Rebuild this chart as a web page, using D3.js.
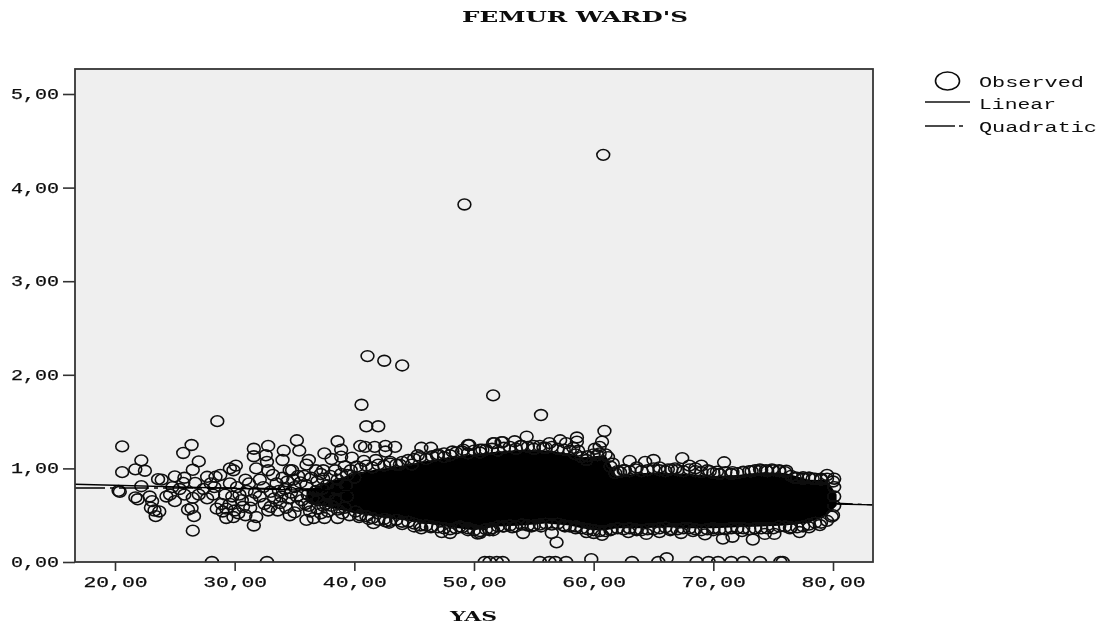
<!DOCTYPE html>
<html>
<head>
<meta charset="utf-8">
<script src="https://cdn.jsdelivr.net/npm/d3@7"></script>
<style>
  html, body { margin: 0; background: #fff; }
  svg { display: block; }
  text { font-family: "Liberation Mono", monospace; fill: #111; }
</style>
</head>
<body>
<div id="chart"></div>
<script>
const xTicks = [20, 30, 40, 50, 60, 70, 80];
const yTicks = [0, 1, 2, 3, 4, 5];

// points that stand clear of the cloud: [YAS, FEMUR WARD'S]
const outliers = [[41.1,2.2],[42.5,2.15],[44,2.1],[49.2,3.82],[60.8,4.35],[51.6,1.78],[55.6,1.57],[60.9,1.4],
  [40.6,1.68],[41,1.45],[42,1.45],[28.55,1.505]];

const zeroPoints = [[28.1,0],[32.7,0],[50.9,0],[51.3,0],[51.9,0],[52.4,0],[55.5,0],[56.3,0],[56.8,0],[57.7,0],[59.8,.03],
  [63.2,0],[65.4,0],[66.1,.04],[68.6,0],[69.6,0],[70.4,0],[71.5,0],[72.5,0],[73.9,0],[75.6,0],[75.8,0]];

const youngPoints = [[20.6,1.235],[20.6,.96],[20.3,.76],[20.4,.75],[22.2,1.086],[21.7,.99],[22.5,.975],[23.6,.885],[21.7,.69],[21.9,.67],
  [22.2,.81],[22.9,.7],[23.1,.65],[23,.58],[23.3,.55],[23.7,.54],[23.4,.49],[25,.915],[24.6,.72],[25,.65],[24.3,.7],[23.9,.88],
  [25.7,1.165],[26.4,1.25],[27,1.075],[26.5,.985],[25.7,.845],[25.8,.9],[26.7,.845],[25.8,.72],[26.5,.685],[26.4,.575],[26.1,.56],
  [26.6,.49],[26.5,.335],[27.7,.91],[28.4,.91],[28.8,.93],[27.7,.68],[28.2,.72],[28.5,.57],[29,.54],[29.3,.47],[29.9,.48],[30.3,.52],
  [29.6,1],[30.1,1.03],[29.9,.98],[29.6,.84],[30.9,.88],[30.4,.72],[30.7,.59],[30.9,.5],[31.8,.48],[31.6,.39],[31.6,1.21],[31.6,1.13],
  [32.8,1.24],[32.6,1.14],[32.7,1.07],[31.8,1],[32.8,.98],[32.1,.88],[33.2,.93],[32.1,.7],[33,.59],[33.8,.63],[28.3,.8],[27.4,.78],
  [29.2,.72],[29.6,.62],[28.9,.62],[30.2,.8],[31,.76],[31.4,.66],[32.4,.8],[33,.75],[33.5,.84],[27,.72],[24.8,.8],[25.4,.78],[28,.84],
  [29.3,.57],[30,.55],[31.3,.58],[32.5,.62],[30.6,.66],[31.7,.74],[33.3,.68],[32.8,.55],[33.6,.55],[31.2,.84],[29.8,.7]];

const risingPoints = [[34.1,1.19],[34,1.09],[34.6,.98],[35.2,1.3],[35.4,1.19],[36.2,1.09],[36,1.04],[34.6,.5],[34.9,.88],[36,.45],[36.6,.47],
  [37.5,1.16],[38.1,1.1],[38.6,1.29],[38.9,1.2],[38.9,1.125],[39.8,1.115],[37.5,.47],[38.6,.47],[39.6,.5],[37.4,.98],[37.4,.89],
  [40.5,1.24],[40.9,1.23],[41.7,1.23],[42.6,1.24],[43.4,1.23],[34.2,.78],[34.5,.68],[34.3,.58],[35,.8],[35.2,.7],[35.3,.6],[35,.53],
  [35.8,.92],[36,.82],[36.1,.72],[35.9,.62],[36.3,.54],[36.8,.98],[36.9,.86],[36.8,.76],[37,.66],[36.9,.57],[37.7,.82],[37.8,.72],
  [37.6,.62],[37.8,.54],[38.4,.98],[38.6,.88],[38.5,.78],[38.4,.66],[38.6,.56],[39.2,1.02],[39.4,.93],[39.3,.82],[39.4,.7],[39.2,.58],
  [34,.9],[33.9,.7],[34.8,.98],[40.2,1.02],[40.4,.48],[40.8,1.08],[41.2,.46],[41.6,.415],[42.6,.435],[44,.405],[42.9,.42],[41.8,1.09],
  [42.6,1.18],[43,1.07],[43.8,1.04],[44.8,1.04],[34.7,.74],[35.5,.85],[35.6,.66],[36.4,.9],[36.5,.68],[37.2,.94],[37.3,.78],[37.2,.52],
  [38,.92],[38.1,.6],[38.9,.94],[39,.52],[39.7,.98],[40,.9],[40.1,.54],[35.3,.92],[34.4,.86],[33.7,.76],[36.2,.6],[37.4,.6]];

// rim of the saturated cloud, read around its outline
const upperRim = [[45.6,1.22],[46.4,1.22],[45.3,1.14],[46.9,1.14],[47.5,1.12],[48.2,1.18],[49.1,1.2],[49.5,1.25],[49.6,1.25],[50.5,1.2],[50.7,1.2],
  [51.6,1.27],[51.7,1.27],[52.3,1.28],[52.4,1.28],[53.4,1.29],[53.9,1.24],[54.4,1.34],[55,1.24],[55.8,1.22],[56.3,1.27],[57.2,1.3],[57.7,1.27],
  [58.3,1.22],[58.6,1.33],[58.6,1.285],[58.7,1.19],[59.4,1.09],[60.1,1.21],[60.5,1.23],[60.7,1.285],[60.3,1.14],[61.2,1.12],[61.6,1.05],
  [62,.97],[62.5,.98],[63,1.08],[63.6,1.01],[64.3,1.07],[65,1.09],[65.5,1.01],[66.2,.99],[66.8,1],[67.4,1.11],[68,1.03],[68.5,1],[69,1.03],
  [69.7,.97],[70.3,.965],[70.9,1.065],[71.6,.96],[72.5,.965],[73.2,.97],[73.9,.99],[74.4,.98],[74.9,.99],[75.5,.97],[76.1,.975],[76.8,.9],
  [77.5,.905],[78,.9],[78.3,.89],[79,.89],[79.5,.93],[80.1,.89],[80.1,.8],[80.1,.7]];
const lowerRim = [[45,.38],[45.6,.36],[46.4,.37],[47.3,.32],[48,.31],[48.8,.38],[49.5,.34],[50.3,.305],[50.5,.31],[51.3,.34],[51.6,.34],[52.4,.38],[53.2,.37],
  [54.1,.31],[54.8,.38],[55.6,.38],[56.5,.31],[56.9,.21],[57.6,.38],[58.5,.36],[59.4,.32],[60,.31],[60.7,.29],[61.4,.34],[62.9,.32],[63.6,.34],[64.4,.3],
  [65.5,.32],[66.4,.34],[67.3,.31],[68.3,.33],[69.3,.295],[70,.34],[70.8,.25],[71.6,.27],[72.4,.33],[73.3,.24],[74.3,.3],[75.1,.3],[76.4,.36],[77.2,.32],
  [78,.37],[78.9,.395],[79.9,.485],[80.1,.6]];

// points crowding the edge of the black area
const upperEdge = [[40.5,1],[41,1.03],[41.5,1.01],[42,1.04],[42.5,1.03],[43,1.05],[43.5,1.04],[44,1.07],[44.5,1.09],[45,1.1],[45.5,1.12],[46,1.1],[46.5,1.13],[47,1.15],[47.5,1.16],
  [48,1.14],[48.5,1.17],[49,1.18],[49.5,1.16],[50,1.19],[50.5,1.17],[51,1.2],[51.5,1.21],[52,1.19],[52.5,1.22],[53,1.23],[53.5,1.21],[54,1.24],[54.5,1.23],[55,1.21],[55.5,1.24],
  [56,1.22],[56.5,1.23],[57,1.21],[57.5,1.2],[58,1.19],[58.5,1.15],[59,1.12],[59.5,1.13],[60,1.15],[60.5,1.16],[61,1.15],[61.4,1.02],[61.8,.95],[62.2,.96],[62.6,.98],[63,.97],
  [63.5,.99],[64,.97],[64.5,.98],[65,1],[65.5,.98],[66,.97],[66.5,.99],[67,.98],[67.5,.97],[68,.99],[68.5,.97],[69,.96],[69.5,.98],[70,.95],[70.5,.94],[71,.96],[71.5,.94],[72,.95],
  [72.5,.96],[73,.97],[73.5,.98],[74,.98],[74.5,.97],[75,.98],[75.5,.98],[76,.96],[76.5,.92],[77,.9],[77.5,.89],[78,.9],[78.5,.89],[79,.88],[79.5,.89],[80,.86]];
const lowerEdge = [[40.5,.5],[41,.49],[41.5,.47],[42,.45],[42.5,.46],[43,.44],[43.5,.45],[44,.43],[44.5,.43],[45,.41],[45.5,.39],[46,.39],[46.5,.38],[47,.37],[47.5,.36],[48,.35],
  [48.5,.36],[49,.37],[49.5,.36],[50,.34],[50.5,.33],[51,.35],[51.5,.36],[52,.38],[52.5,.38],[53,.39],[53.5,.38],[54,.4],[54.5,.39],[55,.39],[55.5,.4],[56,.41],[56.5,.4],[57,.41],
  [57.5,.39],[58,.38],[58.5,.38],[59,.36],[59.5,.35],[60,.34],[60.5,.33],[61,.33],[61.5,.35],[62,.36],[62.5,.35],[63,.36],[63.5,.35],[64,.34],[64.5,.35],[65,.35],[65.5,.36],[66,.37],
  [66.5,.35],[67,.35],[67.5,.36],[68,.36],[68.5,.35],[69,.34],[69.5,.35],[70,.36],[70.5,.35],[71,.35],[71.5,.36],[72,.36],[72.5,.36],[73,.35],[73.5,.36],[74,.36],[74.5,.36],[75,.36],
  [75.5,.38],[76,.38],[76.5,.37],[77,.37],[77.5,.38],[78,.4],[78.5,.42],[79,.42],[79.5,.44],[80,.5]];

const cloudAges = [36,38,40,42,44,46,48,50,52,54,56,58,59,60,61,61.9,64,66,68,70,72,74,76,78,79.5,80.3];
const cloudHigh = [.76,.86,.95,.99,1.03,1.08,1.12,1.15,1.18,1.2,1.19,1.16,1.12,1.13,1.14,.92,.95,.95,.94,.92,.93,.96,.95,.88,.875,.72];
const cloudLow = [.64,.58,.52,.48,.45,.41,.37,.34,.38,.39,.41,.39,.36,.34,.34,.36,.36,.37,.36,.36,.37,.38,.39,.42,.5,.6];

// fit lines
const linearAges = [16.66, 83.3];
const linearFit = [.83, .61];
const quadraticAges = [16.66, 30, 50, 70, 83.3];
const quadraticFit = [.79, .79, .76, .69, .61];

const W = 1104, H = 628;
const x = d3.scaleLinear().domain([20, 80]).range([115, 833]);
const y = d3.scaleLinear().domain([0, 5]).range([562, 94]);
const left = 75, right = 873, top_ = 69, bottom = 562;
const fmt = d => d.toFixed(2).replace('.', ',');

const svg = d3.select('#chart').append('svg').attr('width', W).attr('height', H);
const defs = svg.append('defs');
defs.append('clipPath').attr('id', 'plot').append('rect')
  .attr('x', left).attr('y', top_).attr('width', right - left).attr('height', bottom - top_);
defs.append('filter').attr('id', 'soft').append('feGaussianBlur').attr('stdDeviation', 0.5);

const root = svg.append('g').attr('filter', 'url(#soft)');
root.append('rect').attr('x', left).attr('y', top_).attr('width', right - left).attr('height', bottom - top_).attr('fill', '#efefef');

const plot = root.append('g').attr('clip-path', 'url(#plot)');

const cloud = cloudAges.map((a, i) => ({ a, hi: cloudHigh[i], lo: cloudLow[i] }));
plot.append('path').datum(cloud).attr('fill', '#000')
  .attr('d', d3.area().x(d => x(d.a)).y0(d => y(d.lo)).y1(d => y(d.hi)));

const observed = [...zeroPoints, ...youngPoints, ...risingPoints, ...upperRim, ...lowerRim, ...upperEdge, ...lowerEdge, ...outliers];
plot.selectAll('ellipse').data(observed).enter().append('ellipse')
  .attr('cx', d => x(d[0])).attr('cy', d => y(d[1])).attr('rx', 6.4).attr('ry', 5.4)
  .attr('fill', 'none').attr('stroke', '#111').attr('stroke-width', 1.6);

const line = d3.line().x(d => x(d[0])).y(d => y(d[1]));
plot.append('path').datum(linearAges.map((a, i) => [a, linearFit[i]])).attr('d', line)
  .attr('fill', 'none').attr('stroke', '#000').attr('stroke-width', 1.4);
plot.append('path').datum(quadraticAges.map((a, i) => [a, quadraticFit[i]])).attr('d', line)
  .attr('fill', 'none').attr('stroke', '#000').attr('stroke-width', 1.4).attr('stroke-dasharray', '30 5 4 5');

root.append('rect').attr('x', left).attr('y', top_).attr('width', right - left).attr('height', bottom - top_)
  .attr('fill', 'none').attr('stroke', '#333').attr('stroke-width', 1.8);

const yAxis = root.append('g').attr('transform', `translate(${left},0)`)
  .call(d3.axisLeft(y).tickValues(yTicks).tickFormat(fmt).tickSize(12).tickPadding(4));
const xAxis = root.append('g').attr('transform', `translate(0,${bottom})`)
  .call(d3.axisBottom(x).tickValues(xTicks).tickFormat(fmt).tickSize(9).tickPadding(6));
[yAxis, xAxis].forEach(a => {
  a.select('.domain').remove();
  a.selectAll('line').attr('stroke', '#333').attr('stroke-width', 1.6);
});
yAxis.selectAll('text').attr('font-size', 14).attr('stroke', '#111').attr('stroke-width', 0.25).attr('textLength', 48).attr('lengthAdjust', 'spacingAndGlyphs');
xAxis.selectAll('text').attr('font-size', 14).attr('stroke', '#111').attr('stroke-width', 0.25).attr('textLength', 64).attr('lengthAdjust', 'spacingAndGlyphs');

function label(str, px, py, width, size, bold, family) {
  root.append('text').attr('x', px).attr('y', py).attr('font-size', size)
    .attr('font-weight', bold ? 'bold' : 'normal')
    .style('font-family', family || null)
    .attr('textLength', width).attr('lengthAdjust', 'spacingAndGlyphs').text(str);
}
label("FEMUR WARD'S", 462, 22, 226, 14, true, '"DejaVu Serif"');
label('YAS', 450, 621, 47, 13, true, '"DejaVu Serif"');

// legend
root.append('ellipse').attr('cx', 947.5).attr('cy', 81).attr('rx', 12).attr('ry', 9)
  .attr('fill', 'none').attr('stroke', '#111').attr('stroke-width', 1.6);
root.append('line').attr('x1', 925).attr('x2', 970).attr('y1', 102).attr('y2', 102).attr('stroke', '#111').attr('stroke-width', 1.4);
root.append('line').attr('x1', 925).attr('x2', 966).attr('y1', 126).attr('y2', 126).attr('stroke', '#111').attr('stroke-width', 1.7)
  .attr('stroke-dasharray', '30 4 4 4');
label('Observed', 979, 87, 105, 14);
label('Linear', 979, 109, 77, 14);
label('Quadratic', 979, 132, 118, 14);
</script>
</body>
</html>
